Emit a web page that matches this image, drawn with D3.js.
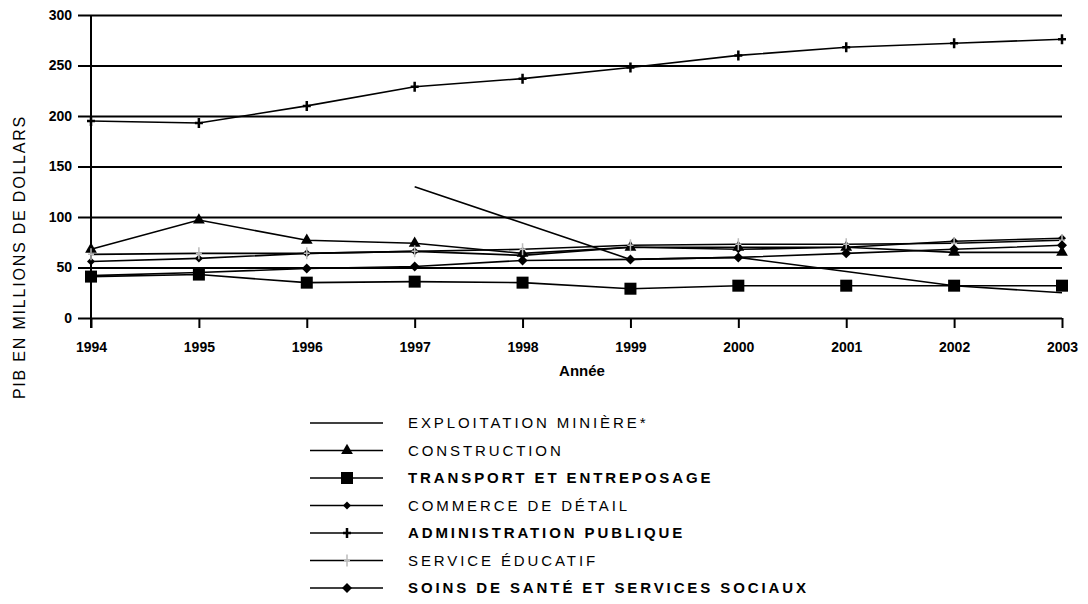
<!DOCTYPE html>
<html>
<head>
<meta charset="utf-8">
<script src="https://cdn.jsdelivr.net/npm/d3@7"></script>
<style>
  body { margin: 0; background: #fff; }
  svg { display: block; font-family: "Liberation Sans", Arial, sans-serif; }
</style>
</head>
<body>
<div class="chart"></div>
<script>
// data
var years = [1994, 1995, 1996, 1997, 1998, 1999, 2000, 2001, 2002, 2003];
var yTicks = [0, 50, 100, 150, 200, 250, 300];

var mining = [null, null, null, 130, 94, 58, 60, 46, 32, 25];
var construction = [68, 97, 77, 74, 64, 70, 70, 70, 65, 65];
var transport = [41, 43, 35, 36, 35, 29, 32, 32, 32, 32];
var retail = [56, 59, 64, 66, 62, 70, 68, 70, 76, 79];
var publicAdmin = [195, 193, 210, 229, 237, 248, 260, 268, 272, 276];
var education = [63, 64, 64, 66, 68, 72, 73, 73, 74, 77];
var health = [42, 45, 49, 51, 57, 58, 60, 64, 68, 72];

var names = [
    "EXPLOITATION MINIÈRE*",
    "CONSTRUCTION",
    "TRANSPORT ET ENTREPOSAGE",
    "COMMERCE DE DÉTAIL",
    "ADMINISTRATION PUBLIQUE",
    "SERVICE ÉDUCATIF",
    "SOINS DE SANTÉ ET SERVICES SOCIAUX"
];
var markers = ["none", "triangle", "square", "smallDiamond", "plus", "grayPlus", "diamond"];
var values = [mining, construction, transport, retail, publicAdmin, education, health];

var series = names.map(function(n, i) {
    return { name: n, marker: markers[i], values: values[i] };
});

const width = 1088, height = 604;
const margin = ({ top: 15, right: 26, bottom: 286, left: 91 });

var svg = d3.select(".chart").append("svg")
    .attr("width", width)
    .attr("height", height);

var x = d3.scalePoint()
    .domain(years)
    .range([margin.left, width - margin.right]);

var y = d3.scaleLinear()
    .domain([0, 300])
    .range([height - margin.bottom, margin.top]);

// gridlines + y labels
var yAxis = d3.axisLeft(y)
    .tickValues(yTicks)
    .tickSize(-(x.range()[1] - margin.left + 13))
    .tickPadding(6);

svg.append("g")
    .attr("transform", `translate(${margin.left - 13},0)`)
    .call(yAxis)
    .call(g => g.select(".domain").remove())
    .call(g => g.selectAll("line").attr("stroke", "#000").attr("stroke-width", 2))
    .call(g => g.selectAll("text")
        .attr("font-size", 14)
        .attr("font-weight", "bold")
        .attr("fill", "#000"));

// vertical axis line
svg.append("line")
    .attr("x1", margin.left).attr("x2", margin.left)
    .attr("y1", y(300)).attr("y2", y(0) + 10)
    .attr("stroke", "#000").attr("stroke-width", 2);

// x axis
var xAxis = d3.axisBottom(x).tickSize(10).tickPadding(14);
svg.append("g")
    .attr("transform", `translate(0,${y(0)})`)
    .call(xAxis)
    .call(g => g.select(".domain").remove())
    .call(g => g.selectAll("line").attr("stroke", "#000").attr("stroke-width", 2))
    .call(g => g.selectAll("text")
        .attr("font-size", 14)
        .attr("font-weight", "bold")
        .attr("fill", "#000"));

svg.append("text")
    .attr("x", 582).attr("y", 376)
    .attr("text-anchor", "middle")
    .attr("font-size", 15)
    .attr("font-weight", "bold")
    .text("Année");

svg.append("text")
    .attr("transform", "translate(25,257) rotate(-90)")
    .attr("text-anchor", "middle")
    .attr("font-size", 16)
    .attr("letter-spacing", 1.8)
    .text("PIB EN MILLIONS DE DOLLARS");

var line = d3.line()
    .defined(d => d.v != null)
    .x(d => x(d.year))
    .y(d => y(d.v));

function drawMarker(g, type) {
    if (type == "triangle") {
        g.append("path").attr("d", d3.symbol(d3.symbolTriangle, 60)).attr("fill", "#000");
    } else if (type == "square") {
        g.append("rect").attr("x", -6).attr("y", -6).attr("width", 12).attr("height", 12).attr("fill", "#000");
    } else if (type == "smallDiamond") {
        g.append("path").attr("d", "M0,-4L4,0L0,4L-4,0Z").attr("fill", "#000");
    } else if (type == "diamond") {
        g.append("path").attr("d", "M0,-5L5,0L0,5L-5,0Z").attr("fill", "#000");
    } else if (type == "plus") {
        g.append("path").attr("d", "M-4,0H4M0,-5V5").attr("stroke", "#000").attr("stroke-width", 2.5);
    } else if (type == "grayPlus") {
        g.append("path").attr("d", "M-3,0H3M0,-6V6").attr("stroke", "#bbb").attr("stroke-width", 1.5);
    }
}

var lines = svg.append("g");
series.forEach(function(s) {
    var pts = years.map((yr, i) => ({ year: yr, v: s.values[i] }));
    lines.append("path")
        .datum(pts)
        .attr("d", line)
        .attr("fill", "none")
        .attr("stroke", "#000")
        .attr("stroke-width", 1.6);
    pts.filter(d => d.v != null).forEach(function(d) {
        var g = lines.append("g").attr("transform", `translate(${x(d.year)},${y(d.v)})`);
        drawMarker(g, s.marker);
    });
});

// legend
var boldRows = [2, 4, 6];
var legend = svg.append("g");
series.forEach(function(s, i) {
    var ly = 423 + i * 27.5;
    legend.append("line")
        .attr("x1", 310).attr("x2", 383)
        .attr("y1", ly).attr("y2", ly)
        .attr("stroke", "#000").attr("stroke-width", 1.6);
    var g = legend.append("g").attr("transform", `translate(347,${ly})`);
    drawMarker(g, s.marker);
    legend.append("text")
        .attr("x", 408).attr("y", ly + 5)
        .attr("font-size", 15)
        .attr("font-weight", boldRows.includes(i) ? "bold" : "normal")
        .attr("letter-spacing", 2.9)
        .text(s.name);
});
</script>
</body>
</html>
